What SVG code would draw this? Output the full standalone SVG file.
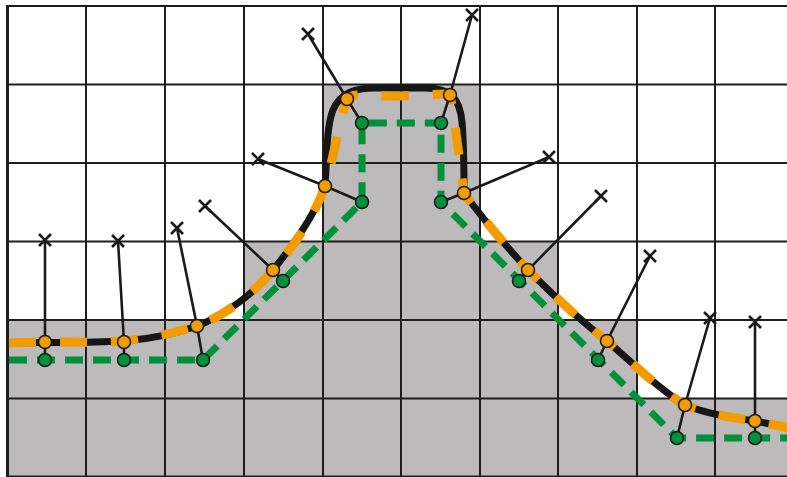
<svg xmlns="http://www.w3.org/2000/svg" width="787" height="477" viewBox="0 0 787 477">
<defs>
<style>
.grid{stroke:#1e1e1e;stroke-width:2;fill:none}
.green{stroke:#00913a;stroke-width:7;fill:none;stroke-dasharray:18 10}
.black{stroke:#161616;stroke-width:7;fill:none;stroke-linecap:butt;stroke-linejoin:round}
.orange{stroke:#f29c00;stroke-width:9;fill:none;stroke-dasharray:27 24}
.conn{stroke:#1a1a1a;stroke-width:2.6;fill:none}
.x{stroke:#1a1a1a;stroke-width:2.6;fill:none}
.op{fill:#f39c00;stroke:#1a1a1a;stroke-width:1.5}
.gp{fill:#00913a;stroke:#1a1a1a;stroke-width:1.5}
</style>
<path id="xm" d="M-6 -6 L6 6 M-6 6 L6 -6" class="x"/>
</defs>
<rect x="0" y="0" width="787" height="477" fill="#ffffff"/>
<path d="M7 320 H244 V241.5 H323 V84.5 H480 V241.5 H558 V320 H637 V398.5 H787 V477 H7 Z" fill="#bcbabb"/>
<g id="grid" class="grid">
<path d="M86 6V477M165 6V477M244 6V477M323 6V477M401 6V477M480 6V477M558 6V477M637 6V477M715 6V477"/>
<path d="M7 6H787M7 84.5H787M7 163H787M7 241.5H787M7 320H787M7 398.5H787M7 476.5H787"/>
<path d="M7.5 5V477" stroke-width="3"/>
</g>
<path class="green" d="M9 360 H203 L362 202 V123 H441 V202 L677 438 H787"/>
<path class="black" d="M9 343 L45 342.5 C80 343 100 342 124 341 C150 339 175 334 197 326 C225 315 255 293 273 270 C295 243 315 215 325 186 C327 160 326 128 333 110 C340 93 355 88 375 88 L425 88 C452 88 460 100 462 122 C464 145 464 170 464 193 C480 215 505 245 528 270 C555 297 580 320 607 341 C635 365 660 390 685 405 C710 415 735 418 755 421 L790 428"/>
<path class="orange" d="M9 343 L45 342 C80 342 100 343 124 341 C150 338 175 333 197 326 C225 316 255 292 273 270 C295 245 315 215 325 186 C333 160 340 120 347 99 C352 92 365 96 398 96 C430 96 445 92 450 95 C455 120 460 165 464 193 C480 215 505 245 528 270 C555 297 580 320 607 341 C635 365 660 390 685 405 C710 415 735 418 755 421 L790 428"/>
<g id="connectors" class="conn">
<polyline points="45,240 45,342 45,360"/>
<polyline points="118,241 124,342 124,360"/>
<polyline points="177,228 197,326 203,360"/>
<polyline points="205,206 273,270 283,281"/>
<polyline points="258,159 325,186 362,202"/>
<polyline points="308,34 347,99 362,123"/>
<polyline points="472,15 450,95 441,123"/>
<polyline points="549,157 464,193 441,202"/>
<polyline points="601,196 528,270 519,281"/>
<polyline points="650,256 607,341 598,360"/>
<polyline points="710,318 685,405 677,438"/>
<polyline points="755,322 755,421 755,438"/>
</g>
<g id="n1"><use href="#xm" x="45" y="240"/><circle class="gp" cx="45" cy="360" r="6.5"/><circle class="op" cx="45" cy="342" r="6.5"/></g>
<g id="n2"><use href="#xm" x="118" y="241"/><circle class="gp" cx="124" cy="360" r="6.5"/><circle class="op" cx="124" cy="342" r="6.5"/></g>
<g id="n3"><use href="#xm" x="177" y="228"/><circle class="gp" cx="203" cy="360" r="6.5"/><circle class="op" cx="197" cy="326" r="6.5"/></g>
<g id="n4"><use href="#xm" x="205" y="206"/><circle class="gp" cx="283" cy="281" r="6.5"/><circle class="op" cx="273" cy="270" r="6.5"/></g>
<g id="n5"><use href="#xm" x="258" y="159"/><circle class="gp" cx="362" cy="202" r="6.5"/><circle class="op" cx="325" cy="186" r="6.5"/></g>
<g id="n6"><use href="#xm" x="308" y="34"/><circle class="gp" cx="362" cy="123" r="6.5"/><circle class="op" cx="347" cy="99" r="6.5"/></g>
<g id="n7"><use href="#xm" x="472" y="15"/><circle class="gp" cx="441" cy="123" r="6.5"/><circle class="op" cx="450" cy="95" r="6.5"/></g>
<g id="n8"><use href="#xm" x="549" y="157"/><circle class="gp" cx="441" cy="202" r="6.5"/><circle class="op" cx="464" cy="193" r="6.5"/></g>
<g id="n9"><use href="#xm" x="601" y="196"/><circle class="gp" cx="519" cy="281" r="6.5"/><circle class="op" cx="528" cy="270" r="6.5"/></g>
<g id="n10"><use href="#xm" x="650" y="256"/><circle class="gp" cx="598" cy="360" r="6.5"/><circle class="op" cx="607" cy="341" r="6.5"/></g>
<g id="n11"><use href="#xm" x="710" y="318"/><circle class="gp" cx="677" cy="438" r="6.5"/><circle class="op" cx="685" cy="405" r="6.5"/></g>
<g id="n12"><use href="#xm" x="755" y="322"/><circle class="gp" cx="755" cy="438" r="6.5"/><circle class="op" cx="755" cy="421" r="6.5"/></g>
</svg>
